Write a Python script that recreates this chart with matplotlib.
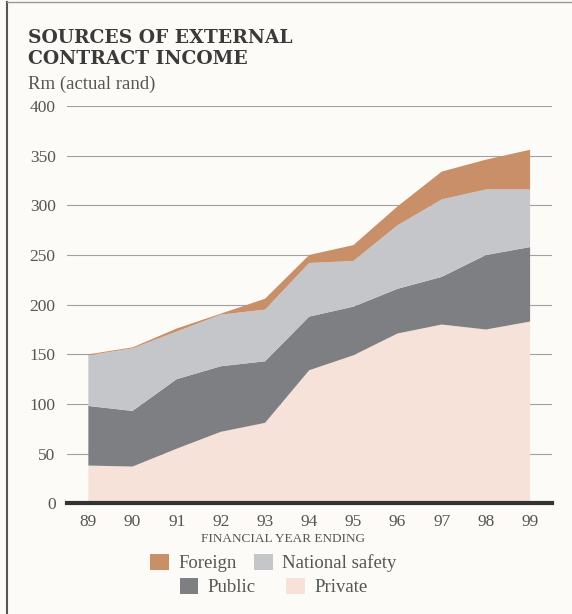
import matplotlib.pyplot as plt
from matplotlib.patches import Patch
from matplotlib.lines import Line2D

years = [89, 90, 91, 92, 93, 94, 95, 96, 97, 98, 99]
year_labels = ["89", "90", "91", "92", "93", "94", "95", "96", "97", "98", "99"]
private = [38, 37, 55, 72, 81, 134, 149, 171, 180, 175, 183]
public = [60, 56, 70, 66, 62, 54, 49, 45, 48, 75, 75]
national_safety = [51, 63, 48, 52, 52, 54, 46, 64, 78, 66, 58]
foreign = [1, 1, 3, 1, 11, 8, 16, 19, 28, 30, 40]
y_ticks = [0, 50, 100, 150, 200, 250, 300, 350, 400]

bg = "#fcfbf7"
c_private = "#f6e2d8"
c_public = "#7e7f83"
c_safety = "#c5c6c9"
c_foreign = "#c98f68"
txt = "#555555"

plt.rcParams["font.family"] = ["Liberation Serif", "DejaVu Serif"]

fig = plt.figure(figsize=(5.72, 6.14), dpi=100)
fig.patch.set_facecolor(bg)
ax = fig.add_axes([0.1166, 0.1803, 0.848, 0.647])
ax.set_facecolor(bg)

ax.stackplot(years, private, public, national_safety, foreign,
             colors=[c_private, c_public, c_safety, c_foreign],
             linewidth=0, zorder=2)

ax.set_xlim(88.51, 99.49)
ax.set_ylim(0, 400)
ax.set_yticks(y_ticks)
ax.set_yticklabels([str(v) for v in y_ticks])
ax.set_xticks(years)
ax.set_xticklabels(year_labels)
ax.tick_params(axis="y", length=0, pad=8, labelsize=12.5, labelcolor=txt)
ax.tick_params(axis="x", length=0, pad=8, labelsize=12.5, labelcolor=txt)
ax.grid(axis="y", color="#a0a0a0", linewidth=0.8, zorder=1)
ax.set_axisbelow(True)
for s in ["top", "right", "left"]:
    ax.spines[s].set_visible(False)
ax.spines["bottom"].set_color("#333333")
ax.spines["bottom"].set_linewidth(3)
ax.spines["bottom"].set_zorder(3)

ax.set_xlabel("FINANCIAL YEAR ENDING", fontsize=9.5, color=txt)
ax.xaxis.set_label_coords(0.445, -0.075)

fig.text(0.049, 0.952, "SOURCES OF EXTERNAL\nCONTRACT INCOME", fontsize=13.5,
         fontweight="bold", color="#3a3a3a", linespacing=1.2, va="top",
         family=["DejaVu Serif"])
fig.text(0.049, 0.849, "Rm (actual rand)", fontsize=13.5, color=txt, va="bottom")

h1 = [Patch(facecolor=c_foreign, label="Foreign"),
      Patch(facecolor=c_safety, label="National safety")]
h2 = [Patch(facecolor=c_public, label="Public"),
      Patch(facecolor=c_private, label="Private")]
leg1 = fig.legend(handles=h1, ncol=2, loc="center", bbox_to_anchor=(0.478, 0.083),
                  frameon=False, fontsize=13.5, handlelength=1.0, handleheight=1.0,
                  handletextpad=0.5, columnspacing=0.9, labelcolor=txt)
leg2 = fig.legend(handles=h2, ncol=2, loc="center", bbox_to_anchor=(0.478, 0.044),
                  frameon=False, fontsize=13.5, handlelength=1.0, handleheight=1.0,
                  handletextpad=0.5, columnspacing=1.6, labelcolor=txt)

fig.add_artist(Line2D([0.012, 0.012], [0, 0.997], color="#555555", linewidth=1.5))
fig.add_artist(Line2D([0.012, 1.0], [0.997, 0.997], color="#999999", linewidth=1))

fig.savefig("out.png", dpi=100, facecolor=bg)
